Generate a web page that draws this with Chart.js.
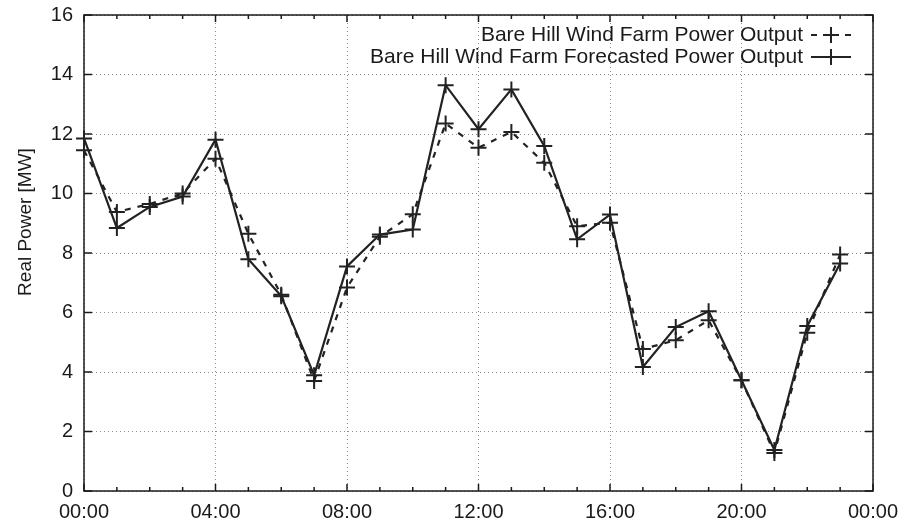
<!DOCTYPE html>
<html>
<head>
<meta charset="utf-8">
<title>Bare Hill Wind Farm</title>
<script src="https://cdn.jsdelivr.net/npm/chart.js@4.4.0/dist/chart.umd.min.js"></script>
<style>
  html, body { margin: 0; padding: 0; background: #fff; }
  canvas { display: block; }
</style>
</head>
<body>
<canvas id="power-chart" width="904" height="525"></canvas>
<script>
// hourly samples over one day
const hours = [0, 1, 2, 3, 4, 5, 6, 7, 8, 9, 10, 11, 12, 13, 14, 15, 16, 17, 18, 19, 20, 21, 22, 23];

const measuredOutput = [11.45, 9.38, 9.65, 10.0, 11.17, 8.65, 6.6, 3.7, 6.84, 8.55, 9.3, 12.35,
                        11.54, 12.07, 11.03, 8.9, 9.02, 4.77, 5.07, 5.74, 3.72, 1.28, 5.32, 7.95];

const forecastOutput = [11.85, 8.84, 9.55, 9.9, 11.81, 7.79, 6.55, 3.89, 7.55, 8.62, 8.79, 13.64,
                        12.16, 13.5, 11.6, 8.46, 9.29, 4.17, 5.51, 6.04, 3.72, 1.38, 5.55, 7.65];

const xTickLabels = ['00:00', '04:00', '08:00', '12:00', '16:00', '20:00', '00:00'];

const seriesLabels = ['Bare Hill Wind Farm Power Output', 'Bare Hill Wind Farm Forecasted Power Output'];

const yTitle = 'Real Power [MW]';

const ink = '#1a1a1a';
const lineInk = '#222';
const fontFamily = '"Liberation Sans", Arial, Helvetica, sans-serif';

const toPoints = values => hours.map((h, i) => ({ x: h, y: values[i] }));

// box around the plot with inward ticks on all four sides
const frameTicks = {
    id: 'frameTicks',
    beforeDatasetsDraw(chart) {
        const { ctx, chartArea: a, scales: { x, y } } = chart;
        ctx.save();
        ctx.strokeStyle = ink;
        ctx.lineWidth = 1.5;
        ctx.strokeRect(a.left, a.top, a.right - a.left, a.bottom - a.top);
        ctx.beginPath();
        for (let h = x.min; h <= x.max; h++) {
            const px = x.getPixelForValue(h);
            const len = h % 4 === 0 ? 7 : 4;
            ctx.moveTo(px, a.bottom);
            ctx.lineTo(px, a.bottom - len);
            ctx.moveTo(px, a.top);
            ctx.lineTo(px, a.top + len);
        }
        y.ticks.forEach(t => {
            const py = y.getPixelForValue(t.value);
            ctx.moveTo(a.left, py);
            ctx.lineTo(a.left + 8, py);
            ctx.moveTo(a.right, py);
            ctx.lineTo(a.right - 8, py);
        });
        ctx.stroke();
        ctx.restore();
    }
};

// y title and a gnuplot style key in the top right corner
const keyAndTitle = {
    id: 'keyAndTitle',
    afterDraw(chart) {
        const { ctx, chartArea: a } = chart;

        ctx.save();
        ctx.fillStyle = ink;
        ctx.font = '19px ' + fontFamily;
        ctx.textAlign = 'center';
        ctx.textBaseline = 'middle';
        ctx.translate(26, 222);
        ctx.rotate(-Math.PI / 2);
        ctx.fillText(yTitle, 0, 0);
        ctx.restore();

        chart.data.datasets.forEach((ds, i) => {
            const ly = a.top + 20 + i * 22;
            const x0 = a.right - 62;
            const x1 = a.right - 22;
            const xm = (x0 + x1) / 2;

            ctx.save();
            ctx.fillStyle = ink;
            ctx.font = '21px ' + fontFamily;
            ctx.textAlign = 'right';
            ctx.textBaseline = 'middle';
            ctx.fillText(ds.label, a.right - 70, ly);

            ctx.strokeStyle = ds.borderColor;
            ctx.lineWidth = ds.borderWidth;
            ctx.setLineDash(ds.borderDash || []);
            ctx.beginPath();
            ctx.moveTo(x0, ly);
            ctx.lineTo(xm, ly);
            ctx.moveTo(x1, ly);
            ctx.lineTo(xm, ly);
            ctx.stroke();

            ctx.setLineDash([]);
            ctx.lineWidth = ds.pointBorderWidth;
            ctx.beginPath();
            ctx.moveTo(xm - ds.pointRadius, ly);
            ctx.lineTo(xm + ds.pointRadius, ly);
            ctx.moveTo(xm, ly - ds.pointRadius);
            ctx.lineTo(xm, ly + ds.pointRadius);
            ctx.stroke();
            ctx.restore();
        });
    }
};

const seriesStyle = {
    borderColor: lineInk,
    backgroundColor: lineInk,
    borderWidth: 2.2,
    pointStyle: 'cross',
    pointRadius: 8,
    pointHoverRadius: 8,
    pointBorderWidth: 2,
    pointBorderColor: lineInk,
    tension: 0,
    clip: false
};

const chart = new Chart(document.getElementById('power-chart').getContext('2d'), {
    type: 'line',
    data: {
        datasets: [
            Object.assign({ label: seriesLabels[0], data: toPoints(measuredOutput), borderDash: [6, 7] }, seriesStyle),
            Object.assign({ label: seriesLabels[1], data: toPoints(forecastOutput) }, seriesStyle)
        ]
    },
    options: {
        responsive: false,
        animation: false,
        events: [],
        layout: { padding: { top: 15, right: 31, bottom: 0, left: 0 } },
        plugins: {
            legend: { display: false },
            tooltip: { enabled: false }
        },
        scales: {
            x: {
                type: 'linear',
                min: 0,
                max: 24,
                afterFit: scale => {
                    scale.height = 34;
                    scale.paddingLeft = 0;
                    scale.paddingRight = 0;
                },
                grid: { color: '#8c8c8c', lineWidth: 1, drawTicks: false },
                border: { display: false, dash: [1, 3] },
                ticks: {
                    stepSize: 4,
                    autoSkip: false,
                    maxRotation: 0,
                    padding: 9,
                    color: ink,
                    font: { family: fontFamily, size: 20 },
                    callback: value => xTickLabels[value / 4]
                }
            },
            y: {
                min: 0,
                max: 16,
                afterFit: scale => {
                    scale.width = 84;
                    scale.paddingTop = 0;
                    scale.paddingBottom = 0;
                },
                grid: { color: '#8c8c8c', lineWidth: 1, drawTicks: false },
                border: { display: false, dash: [1, 3] },
                ticks: {
                    stepSize: 2,
                    padding: 11,
                    color: ink,
                    font: { family: fontFamily, size: 20 }
                }
            }
        }
    },
    plugins: [frameTicks, keyAndTitle]
});
</script>
</body>
</html>
